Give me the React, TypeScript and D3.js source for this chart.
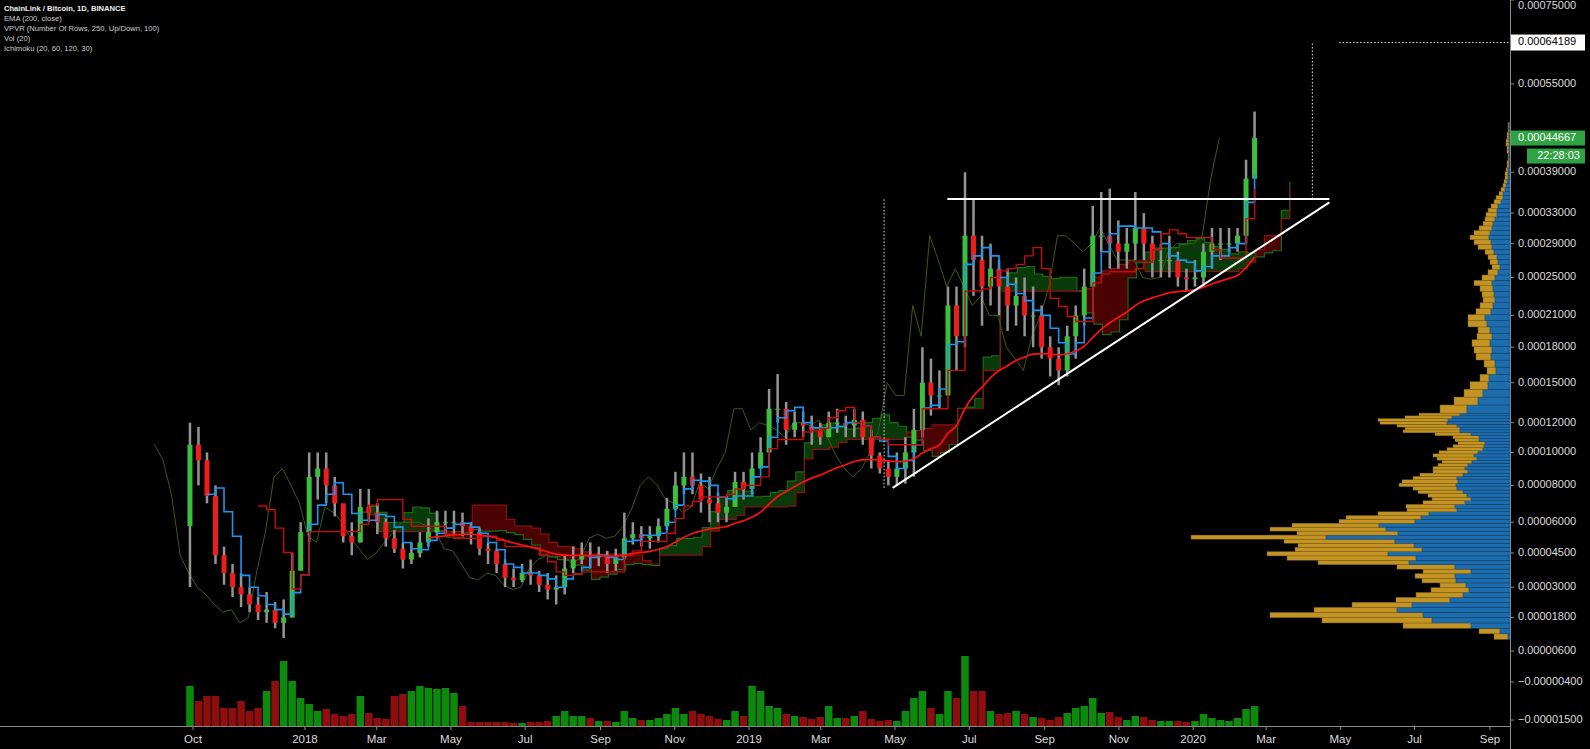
import React from "react";
import * as d3 from "d3";

const W = 1590;
const H = 749;
const AXIS_X = 1510;
const BASE_Y = 726;
const PRICE_OFFSET = 0.0001; // TradingView's shifted log scale

// weekly candles in satoshis, first week starts Mon 2017-09-25
const firstWeekStart = "2017-09-25";
const firstOpenSats = 5800;
const weeklyClose = [
  10500, 9500, 7400, 4400, 3600, 3000, 2700, 2300, 2000, 2100, 1600, 1800, 3700, 5500, 8500, 9000,
  8000, 7000, 5300, 5000, 6800, 6500, 6000, 5200, 4700, 4200, 4500, 5000, 5500, 6000, 6000, 6000,
  5800, 5500, 4700, 4600, 4000, 3400, 3300, 3600, 3500, 3100, 2900, 3000, 3800, 4200, 4400, 4300,
  4400, 4000, 4300, 5200, 5400, 5200, 5300, 5800, 6700, 8000, 8500, 8000, 7200, 7000, 6500, 6800,
  8200, 7800, 9000, 10000, 13000, 13000, 11500, 12000, 11800, 11500, 11000, 12000, 12000, 11800, 12200, 11000,
  9800, 9000, 8500, 9000, 10000, 11500, 15000, 14000, 14000, 22000, 19000, 30000, 27000, 24000, 26000, 24000,
  22000, 23000, 21000, 21000, 18000, 17000, 16000, 19000, 21000, 24000, 30000, 30000, 29000, 28000, 29000, 31000,
  29000, 27000, 27000, 27000, 25000, 24800, 25000, 28000, 29000, 29000, 29000, 30000, 38000, 44667,
];
const weeklyHigh = [
  12000, 11700, 10000, 8000, 4800, 4000, 3600, 3000, 2600, 2800, 2400, 2500, 4500, 6000, 10000, 10000,
  10000, 8500, 6800, 6000, 7800, 7800, 7000, 6200, 5600, 5000, 5000, 5500, 6200, 6600, 6600, 6600,
  6500, 6000, 5700, 5000, 4700, 4200, 3800, 4000, 4200, 3700, 3600, 3500, 4400, 4800, 5000, 5000,
  4800, 4600, 4700, 6500, 6000, 5800, 5800, 6200, 7300, 8800, 10000, 10000, 8700, 8500, 7600, 7400,
  8800, 8800, 10000, 11000, 14500, 15700, 13500, 12800, 12800, 12500, 12000, 12800, 13000, 12500, 13000, 12800,
  11500, 10000, 9500, 10000, 11000, 13000, 18000, 17000, 16000, 24000, 24000, 39000, 35000, 30000, 29000, 27000,
  26000, 25000, 25000, 24000, 22000, 19000, 18000, 20000, 22000, 26000, 34000, 36000, 36500, 32000, 31000, 36000,
  33000, 30000, 29000, 30000, 28000, 26000, 27000, 29000, 31000, 31000, 31000, 31000, 41000, 49500,
];
const weeklyLow = [
  3000, 8000, 7000, 4000, 3100, 2600, 2200, 2000, 1700, 1600, 1400, 1050, 1800, 3800, 5000, 7200,
  7000, 6300, 5000, 4400, 5000, 6000, 5400, 4800, 4500, 3800, 4000, 4300, 4800, 5200, 5400, 5400,
  5300, 4900, 4400, 4000, 3600, 3000, 3000, 3200, 3100, 2800, 2500, 2300, 2700, 3600, 4000, 3800,
  3900, 3600, 3700, 4200, 4900, 4800, 4700, 5000, 5600, 6600, 7500, 7500, 6500, 6000, 6000, 6000,
  7000, 7200, 7500, 9000, 10000, 12000, 10500, 11000, 11000, 10500, 10500, 11000, 11300, 11000, 11000, 10500,
  9000, 8700, 8000, 8000, 8100, 8500, 11000, 12500, 13000, 14000, 16000, 18000, 23000, 20000, 22000, 21000,
  19500, 20000, 19000, 18000, 17000, 15500, 14800, 15500, 17000, 20000, 24000, 28000, 26000, 26000, 26000, 27000,
  27000, 25000, 25000, 25000, 24000, 23500, 24000, 24000, 26000, 27000, 28000, 28000, 29000, 42000,
];
// typical daily volume for each week (relative units)
const weeklyVolume = [
  40, 25, 30, 30, 18, 18, 25, 15, 18, 35, 45, 65, 45, 28, 22, 15,
  17, 12, 10, 12, 30, 13, 8, 7, 30, 32, 35, 40, 38, 37, 38, 33,
  20, 4, 4, 4, 4, 4, 3, 3, 4, 4, 5, 10, 15, 10, 10, 8,
  5, 5, 4, 15, 8, 6, 6, 8, 12, 18, 12, 15, 12, 10, 7, 6,
  15, 10, 40, 35, 20, 18, 12, 10, 9, 7, 9, 20, 8, 8, 10, 15,
  7, 5, 6, 5, 15, 28, 35, 18, 12, 35, 28, 70, 35, 35, 15, 12,
  13, 15, 12, 9, 8, 6, 9, 13, 18, 20, 28, 13, 14, 9, 6, 10,
  9, 6, 5, 5, 5, 4, 5, 12, 8, 6, 5, 8, 17, 20,
];

// VPVR rows: fine rows at the bottom, coarser rows above
const vpLowStart = 0.00001;
const vpLowStep = 0.00000198;
const vpLowUp = [
  2, 10, 39, 78, 87, 113, 98, 60, 47, 41, 44, 54, 55, 39, 55, 101, 94, 122, 88, 96,
  115, 184, 112, 124, 131, 95, 89, 81, 53, 55, 45, 39, 43, 47, 53, 54, 52, 53, 47, 42,
  45, 42, 38, 33, 36, 32, 27, 26, 25, 31, 31, 39, 50, 50, 53, 63, 62, 58, 50,
];
const vpLowDown = [
  14, 21, 68, 110, 153, 83, 60, 54, 47, 38, 26, 34, 40, 48, 58, 91, 129, 121, 127, 116,
  111, 135, 101, 116, 87, 76, 75, 51, 50, 49, 42, 39, 39, 45, 44, 57, 56, 44, 43, 35,
  32, 30, 30, 40, 41, 39, 36, 31, 27, 24, 26, 36, 57, 55, 60, 67, 70, 47, 41,
];
const vpHighStart = 0.0001268;
const vpHighStep = 0.000006;
const vpHighUp = [
  43, 32, 27, 22, 21, 14, 15, 19, 18, 20, 18, 20, 23, 25, 19, 17, 15, 16, 17, 18,
  15, 12, 10, 12, 13, 16, 18, 19, 21, 20, 18, 17, 15, 13, 13, 12, 9, 7, 7, 5,
  4, 3, 2, 2, 2, 1, 1, 1, 1, 1, 1, 1, 1, 1, 1, 1, 1, 1,
];
const vpHighDown = [
  27, 24, 19, 18, 9, 9, 11, 15, 18, 18, 15, 12, 19, 17, 15, 13, 12, 12, 13, 18,
  13, 10, 8, 8, 9, 9, 14, 17, 19, 16, 13, 10, 10, 11, 9, 7, 7, 7, 4, 4,
  3, 3, 3, 3, 2, 2, 2, 1, 1, 2, 2, 3, 3, 2, 2, 1, 1, 1,
];

const priceTicks = [
  0.00075, 0.00055, 0.00039, 0.00033, 0.00029, 0.00025, 0.00021, 0.00018, 0.00015, 0.00012,
  0.0001, 0.00008, 0.00006, 0.000045, 0.00003, 0.000018, 0.000006, -0.000004, -0.000015,
];
const timeTicks = [
  "2017-10-01", "2018-01-01", "2018-03-01", "2018-05-01", "2018-07-01", "2018-09-01",
  "2018-11-01", "2019-01-01", "2019-03-01", "2019-05-01", "2019-07-01", "2019-09-01",
  "2019-11-01", "2020-01-01", "2020-03-01", "2020-05-01", "2020-07-01", "2020-09-01",
];
const legendLines = [
  "ChainLink / Bitcoin, 1D, BINANCE",
  "EMA (200, close)",
  "VPVR (Number Of Rows, 250, Up/Down, 100)",
  "Vol (20)",
  "Ichimoku (20, 60, 120, 30)",
];

// drawings: [date, price]
const trendLines: [string, number][][] = [
  [["2019-04-29", 0.0000786], ["2020-04-22", 0.000345]],
  [["2019-06-13", 0.00035], ["2020-04-22", 0.00035]],
];
const measureLines: [string, number][][] = [
  [["2019-04-22", 0.0000786], ["2019-04-22", 0.00035]],
  [["2020-04-08", 0.00035], ["2020-04-08", 0.00064189]],
  [["2020-04-30", 0.00064189], ["2020-09-17", 0.00064189]],
];
const targetPrice = 0.00064189;
const lastPrice = 0.00044667;
const countdown = "22:28:03";

// indicator periods in weekly bars (≈ 20 / 60 / 120 days), shift 29 days
const CONV_N = 3;
const BASE_N = 9;
const SPANB_N = 17;
const SHIFT_DAYS = 29;
const EMA_DAYS = 200;

const DAY = 864e5;

export default function App() {
  const x = d3
    .scaleUtc()
    .domain([new Date("2017-10-01"), new Date("2020-09-01")])
    .range([193, 1490]);
  const yLog = d3
    .scaleLog()
    .domain([0.00075 + PRICE_OFFSET, 0.000006 + PRICE_OFFSET])
    .range([0, 651]);
  const y = (v: number) => yLog(v + PRICE_OFFSET);

  const weekStart0 = new Date(firstWeekStart);
  const bars = weeklyClose.map((c, i) => {
    const start = new Date(weekStart0.getTime() + 7 * i * DAY);
    const mid = new Date(start.getTime() + 3.5 * DAY);
    const open = i === 0 ? firstOpenSats : weeklyClose[i - 1];
    return {
      start,
      mid,
      open: open * 1e-8,
      high: weeklyHigh[i] * 1e-8,
      low: weeklyLow[i] * 1e-8,
      close: c * 1e-8,
      vol: weeklyVolume[i],
    };
  });
  type Bar = (typeof bars)[number];

  const donchian = (i: number, n: number) => {
    if (i < n - 1) return null;
    const s = bars.slice(i - n + 1, i + 1);
    return ((d3.max(s, (d) => d.high) as number) + (d3.min(s, (d) => d.low) as number)) / 2;
  };
  const shift = (d: Date, days: number) => new Date(d.getTime() + days * DAY);

  type TV = { t: Date; v: number };
  const conv = bars.map((b, i) => ({ t: b.mid, v: donchian(i, CONV_N) })).filter((d) => d.v !== null) as TV[];
  const base = bars.map((b, i) => ({ t: b.mid, v: donchian(i, BASE_N) })).filter((d) => d.v !== null) as TV[];
  const cloud = bars
    .map((b, i) => {
      const c = donchian(i, CONV_N);
      const k = donchian(i, BASE_N);
      const sb = donchian(i, SPANB_N);
      if (c === null || k === null || sb === null) return null;
      return { t: shift(b.mid, SHIFT_DAYS), a: (c + k) / 2, b: sb };
    })
    .filter((d) => d !== null) as { t: Date; a: number; b: number }[];
  const lagging: TV[] = bars.map((b) => ({ t: shift(b.mid, -SHIFT_DAYS), v: b.close }));

  // EMA 200 days on weekly closes
  const alpha = 1 - Math.pow(1 - 2 / (EMA_DAYS + 1), 7);
  const seedN = Math.ceil(EMA_DAYS / 7);
  const ema: TV[] = [];
  let e = d3.mean(bars.slice(0, seedN), (d) => d.close) as number;
  bars.forEach((b, i) => {
    if (i < seedN - 1) return;
    if (i >= seedN) e = e + alpha * (b.close - e);
    ema.push({ t: b.mid, v: e });
  });

  const stepLine = d3.line<TV>().x((d) => x(d.t)).y((d) => y(d.v)).curve(d3.curveStepAfter);
  const convPath = stepLine(conv);
  const basePath = stepLine(base);
  const lagPath = d3.line<TV>().x((d) => x(d.t)).y((d) => y(d.v))(lagging);
  const emaPath = d3.line<TV>().x((d) => x(d.t)).y((d) => y(d.v)).curve(d3.curveMonotoneX)(ema);

  type CP = { t: Date; a: number; b: number };
  const cloudArea = d3.area<CP>().x((d) => x(d.t)).y0((d) => y(d.a)).y1((d) => y(d.b)).curve(d3.curveStepAfter)(cloud);
  const aboveB = d3.area<CP>().x((d) => x(d.t)).y0(0).y1((d) => y(d.b)).curve(d3.curveStepAfter)(cloud);
  const belowB = d3.area<CP>().x((d) => x(d.t)).y0((d) => y(d.b)).y1(H).curve(d3.curveStepAfter)(cloud);
  const spanAPath = d3.line<CP>().x((d) => x(d.t)).y((d) => y(d.a)).curve(d3.curveStepAfter)(cloud);
  const spanBPath = d3.line<CP>().x((d) => x(d.t)).y((d) => y(d.b)).curve(d3.curveStepAfter)(cloud);

  const yVol = d3.scaleLinear().domain([0, 100]).range([BASE_Y, BASE_Y - 100]);
  const weekPx = x(new Date(weekStart0.getTime() + 7 * DAY)) - x(weekStart0);

  const vpRows = [
    ...vpLowUp.map((u, i) => ({ lo: vpLowStart + i * vpLowStep, hi: vpLowStart + (i + 1) * vpLowStep, up: u, down: vpLowDown[i] })),
    ...vpHighUp.map((u, i) => ({ lo: vpHighStart + i * vpHighStep, hi: vpHighStart + (i + 1) * vpHighStep, up: u, down: vpHighDown[i] })),
  ];
  const vpX = d3.scaleLinear().domain([0, 320]).range([0, 320]);

  const fmtPrice = (v: number) => (v < 0 ? "\u2212" : "") + Math.abs(v).toFixed(8);
  const fmtTime = (d: Date) => (d.getUTCMonth() === 0 ? d3.utcFormat("%Y")(d) : d3.utcFormat("%b")(d));
  const pt = (p: [string, number]) => [x(new Date(p[0])), y(p[1])];

  const up = (b: Bar) => b.close >= b.open;

  return (
    <>
      <style>{"body{margin:0;background:#000;}"}</style>
      <svg width={W} height={H} style={{ display: "block", background: "#000" }} fontFamily="'Liberation Sans', Arial, sans-serif">
        <defs>
          <clipPath id="aboveB">
            <path d={aboveB || ""} />
          </clipPath>
          <clipPath id="belowB">
            <path d={belowB || ""} />
          </clipPath>
          <clipPath id="plot">
            <rect x={0} y={0} width={AXIS_X} height={BASE_Y} />
          </clipPath>
        </defs>

        <g clipPath="url(#plot)">
          {/* volume */}
          {bars.map((b, i) => (
            <rect
              key={"v" + i}
              x={x(b.mid) - weekPx / 2 + 0.5}
              y={yVol(b.vol)}
              width={weekPx - 1}
              height={BASE_Y - yVol(b.vol)}
              fill={up(b) ? "#0b8a0b" : "#8e0e0e"}
            />
          ))}

          {/* volume profile */}
          {vpRows.map((r, i) => {
            const top = y(r.hi);
            const h = y(r.lo) - top;
            return (
              <g key={"vp" + i}>
                <rect x={AXIS_X - vpX(r.up + r.down)} y={top} width={vpX(r.down)} height={h} fill="#c39423" stroke="#7a5c12" strokeWidth={0.4} />
                <rect x={AXIS_X - vpX(r.up)} y={top} width={vpX(r.up)} height={h} fill="#1d6cae" stroke="#0f3f66" strokeWidth={0.4} />
              </g>
            );
          })}

          {/* ichimoku cloud */}
          <path d={cloudArea || ""} fill="#0a3a0a" clipPath="url(#aboveB)" />
          <path d={cloudArea || ""} fill="#4a0202" clipPath="url(#belowB)" />
          <path d={spanAPath || ""} fill="none" stroke="#1c6a14" strokeWidth={1.2} />
          <path d={spanBPath || ""} fill="none" stroke="#8a1111" strokeWidth={1.2} />
          <path d={lagPath || ""} fill="none" stroke="#3c5c0e" strokeWidth={1} />

          {/* candles */}
          {bars.map((b, i) => {
            const cx = x(b.mid);
            const yo = y(b.open);
            const yc = y(b.close);
            return (
              <g key={"c" + i}>
                <line x1={cx} x2={cx} y1={y(b.high)} y2={y(b.low)} stroke="#959595" strokeWidth={2.5} />
                <rect
                  x={cx - 2.5}
                  y={Math.min(yo, yc)}
                  width={5}
                  height={Math.max(1, Math.abs(yc - yo))}
                  fill={up(b) ? "#3cbf3c" : "#f01c1c"}
                />
              </g>
            );
          })}

          <path d={convPath || ""} fill="none" stroke="#1a96f0" strokeWidth={1.6} />
          <path d={basePath || ""} fill="none" stroke="#c80a0a" strokeWidth={1.4} />
          <path d={emaPath || ""} fill="none" stroke="#ff1010" strokeWidth={1.7} />

          {/* drawings */}
          {trendLines.map((l, i) => {
            const [x1, y1] = pt(l[0]);
            const [x2, y2] = pt(l[1]);
            return <line key={"t" + i} x1={x1} y1={y1} x2={x2} y2={y2} stroke="#fff" strokeWidth={2} />;
          })}
          {measureLines.map((l, i) => {
            const [x1, y1] = pt(l[0]);
            const [x2, y2] = pt(l[1]);
            return <line key={"m" + i} x1={x1} y1={y1} x2={x2} y2={y2} stroke="#e8e8e8" strokeWidth={1} strokeDasharray="1.5,2" />;
          })}
        </g>

        {/* axes */}
        <line x1={0} x2={AXIS_X} y1={BASE_Y + 0.5} y2={BASE_Y + 0.5} stroke="#8a8a8a" />
        <line x1={AXIS_X + 0.5} x2={AXIS_X + 0.5} y1={0} y2={H} stroke="#8a8a8a" />
        {timeTicks.map((s) => {
          const d = new Date(s);
          const tx = x(d);
          return (
            <g key={s}>
              <line x1={tx} x2={tx} y1={BASE_Y + 1} y2={BASE_Y + 4} stroke="#8a8a8a" />
              <text x={tx} y={740} textAnchor="middle" dominantBaseline="middle" fontSize={11.5} fill="#dcdcdc">
                {fmtTime(d)}
              </text>
            </g>
          );
        })}
        {priceTicks.map((v) => (
          <g key={v}>
            <line x1={AXIS_X + 1} x2={AXIS_X + 4} y1={y(v)} y2={y(v)} stroke="#8a8a8a" />
            <text x={1518} y={Math.max(y(v), 6)} dominantBaseline="middle" fontSize={11} fill="#dcdcdc">
              {fmtPrice(v)}
            </text>
          </g>
        ))}

        {/* price labels */}
        <rect x={AXIS_X + 1} y={y(targetPrice) - 8} width={74} height={16} fill="#fff" />
        <text x={1518} y={y(targetPrice)} dominantBaseline="middle" fontSize={11} fill="#000">
          {fmtPrice(targetPrice)}
        </text>
        <rect x={AXIS_X + 1} y={y(lastPrice) - 7.5} width={74} height={15} fill="#2fa243" />
        <text x={1518} y={y(lastPrice)} dominantBaseline="middle" fontSize={11} fill="#fff">
          {fmtPrice(lastPrice)}
        </text>
        <rect x={1527} y={y(lastPrice) + 10.5} width={58} height={15} fill="#2fa243" />
        <text x={1580} y={y(lastPrice) + 18} textAnchor="end" dominantBaseline="middle" fontSize={11} fill="#fff">
          {countdown}
        </text>

        {/* legend */}
        {legendLines.map((t, i) => (
          <text
            key={t}
            x={4}
            y={8.5 + i * 10.2}
            dominantBaseline="middle"
            fontSize={7.6}
            fontWeight={i === 0 ? "bold" : "normal"}
            fill={i === 0 ? "#f0f0f0" : "#cfcfcf"}
          >
            {t}
          </text>
        ))}
      </svg>
    </>
  );
}
